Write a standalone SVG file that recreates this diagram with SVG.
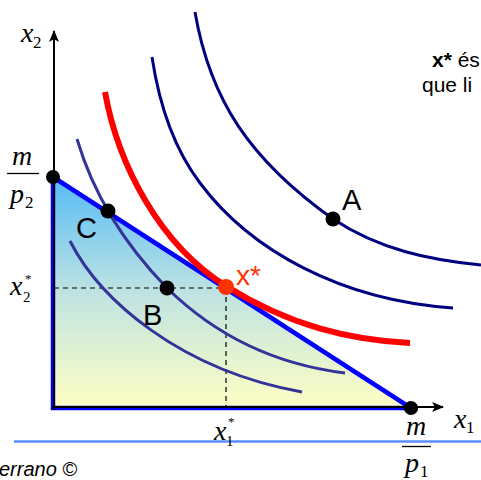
<svg xmlns="http://www.w3.org/2000/svg" width="481" height="480" viewBox="0 0 481 480">
<defs>
<linearGradient id="fillg" x1="0" y1="177" x2="0" y2="408" gradientUnits="userSpaceOnUse">
<stop offset="0" stop-color="#55bbf7"/>
<stop offset="0.5" stop-color="#bfe3e2"/>
<stop offset="1" stop-color="#ffffc4"/>
</linearGradient>
<marker id="arr" viewBox="0 0 12 10" refX="11" refY="5" markerWidth="12" markerHeight="10" markerUnits="userSpaceOnUse" orient="auto">
<path d="M0,0 L12,5 L0,10 L3,5 Z" fill="#000"/>
</marker>
<style>
.math{font-family:"Liberation Serif","Times New Roman",serif;font-style:italic;fill:#000}
.sub{font-family:"Liberation Serif","Times New Roman",serif;font-style:normal;fill:#000}
.lbl{font-family:"Liberation Sans",Arial,sans-serif;font-size:29px;fill:#000}
.ic1{fill:none;stroke:#000080;stroke-width:3}
.ic2{fill:none;stroke:#333399;stroke-width:3}
.dot{fill:#000}
.dash{stroke:#000;stroke-width:1.2;stroke-dasharray:5,4;fill:none}
.note{font-family:"Liberation Sans",Arial,sans-serif;font-size:21px;fill:#000}
</style>
</defs>
<rect width="481" height="480" fill="#fff"/>

<g id="budget-set">
<path d="M53,177 L53,408 L411,408 Z" fill="url(#fillg)" stroke="#0000ff" stroke-width="4.5" stroke-linejoin="miter"/>
</g>

<g id="connectors">
<path class="dash" d="M54,288 L226,288 M226,288 L226,408"/>
<line x1="54" y1="410" x2="54" y2="31" stroke="#000" stroke-width="2" marker-end="url(#arr)"/>
<line x1="52" y1="407" x2="443" y2="407" stroke="#000" stroke-width="2" marker-end="url(#arr)"/>
<line x1="14" y1="441.5" x2="481" y2="441.5" stroke="#5b8cff" stroke-width="2.5"/>
</g>

<g id="curves">
<path class="ic2" d="M70,241 C100,300 180,370 302,392"/>
<path class="ic2" d="M77,139 C95,200 130,250 167,288 C220,340 280,365 345,373"/>
<path fill="none" stroke="#ff0000" stroke-width="6" d="M105,92 C118,165 160,245 226,286 C290,326 350,340 410,343"/>
<path class="ic1" d="M152,57 C160,110 175,150 200,183 C250,250 340,300 453,308"/>
<path class="ic1" d="M195,12 C210,100 250,160 333,219 C380,250 430,260 481,265"/>
</g>

<g id="point-A">
<circle class="dot" cx="333" cy="219" r="7.5"/>
<text class="lbl" x="342" y="210">A</text>
</g>
<g id="point-C">
<circle class="dot" cx="108" cy="211" r="7.5"/>
<text class="lbl" x="76" y="238">C</text>
</g>
<g id="point-B">
<circle class="dot" cx="167" cy="288" r="7.5"/>
<text class="lbl" x="143" y="325">B</text>
</g>
<g id="point-xstar">
<circle cx="226" cy="287" r="8" fill="#ff3300"/>
<text x="236" y="285" font-family="Liberation Sans, Arial, sans-serif" font-size="28" fill="#ff3300">x*</text>
</g>
<g id="intercept-y">
<circle class="dot" cx="53" cy="177" r="7"/>
</g>
<g id="intercept-x">
<circle class="dot" cx="411" cy="408" r="7"/>
</g>

<g id="axis-labels">
<text class="math" x="21" y="42" font-size="28">x</text>
<text class="sub" x="33" y="48" font-size="17">2</text>
<text class="math" x="454" y="428" font-size="28">x</text>
<text class="sub" x="466" y="433" font-size="17">1</text>

<text class="math" x="12" y="165" font-size="28">m</text>
<line x1="7" y1="173.5" x2="39" y2="173.5" stroke="#000" stroke-width="1.3"/>
<text class="math" x="10" y="203" font-size="28">p</text>
<text class="sub" x="25" y="208" font-size="17">2</text>

<text class="math" x="10" y="295" font-size="28">x</text>
<text class="sub" x="23" y="302" font-size="15">2</text>
<text class="sub" x="25" y="283" font-size="13">*</text>

<text class="math" x="214" y="440" font-size="28">x</text>
<text class="sub" x="226" y="446" font-size="15">1</text>
<text class="sub" x="228" y="426" font-size="13">*</text>

<text class="math" x="406" y="435" font-size="28">m</text>
<line x1="402" y1="446.5" x2="431" y2="446.5" stroke="#000" stroke-width="1.3"/>
<text class="math" x="405" y="472" font-size="28">p</text>
<text class="sub" x="420" y="477" font-size="17">1</text>
</g>

<g id="notes">
<text class="note" x="432" y="67"><tspan font-weight="bold">x*</tspan> és</text>
<text class="note" x="422" y="92">que li</text>
<text x="-1" y="476" font-family="Liberation Sans, Arial, sans-serif" font-size="20" font-style="italic" fill="#000">errano ©</text>
</g>
</svg>
